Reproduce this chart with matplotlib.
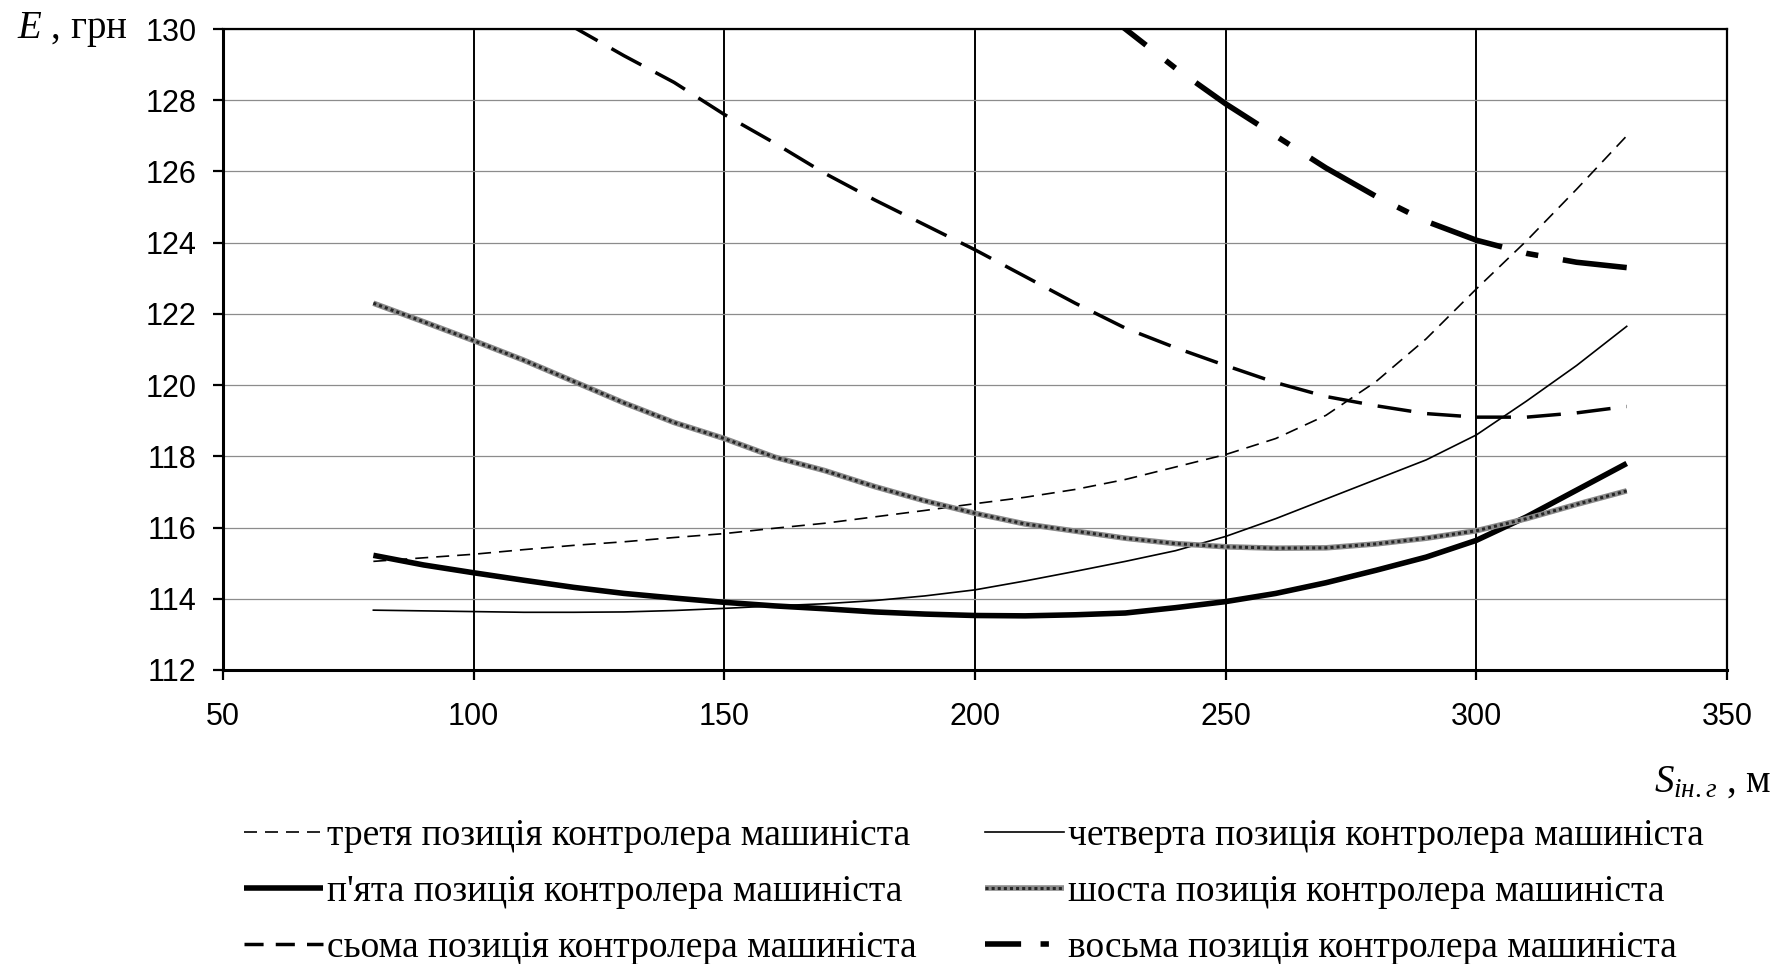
import numpy as np
import matplotlib
matplotlib.use('Agg')
import matplotlib.pyplot as plt
from matplotlib.lines import Line2D
from matplotlib.legend_handler import HandlerTuple

plt.rcParams['mathtext.fontset'] = 'custom'
plt.rcParams['mathtext.rm'] = 'Liberation Serif'
plt.rcParams['mathtext.it'] = 'Liberation Serif:italic'

# distance S, m
s_values = [80, 90, 100, 110, 120, 130, 140, 150, 160, 170, 180, 190, 200,
            210, 220, 230, 240, 250, 260, 270, 280, 290, 300, 310, 320, 330]

# E, UAH for controller positions 3..8 (nan = off chart)
e_pos3 = [115.05, 115.15, 115.25, 115.38, 115.5, 115.6, 115.72, 115.83, 115.98,
          116.12, 116.3, 116.48, 116.67, 116.85, 117.07, 117.35, 117.7, 118.05,
          118.5, 119.15, 120.1, 121.3, 122.7, 124.05, 125.5, 127.0]
e_pos4 = [113.68, 113.66, 113.64, 113.62, 113.62, 113.63, 113.67, 113.73, 113.8,
          113.86, 113.95, 114.08, 114.25, 114.5, 114.77, 115.05, 115.35, 115.75,
          116.25, 116.8, 117.35, 117.9, 118.6, 119.55, 120.55, 121.65]
e_pos5 = [115.22, 114.95, 114.73, 114.52, 114.32, 114.15, 114.02, 113.9, 113.8,
          113.72, 113.63, 113.57, 113.53, 113.52, 113.55, 113.6, 113.75, 113.92,
          114.15, 114.45, 114.8, 115.17, 115.64, 116.3, 117.05, 117.8]
e_pos6 = [122.3, 121.78, 121.25, 120.7, 120.1, 119.5, 118.95, 118.5, 117.98,
          117.6, 117.15, 116.75, 116.4, 116.1, 115.9, 115.7, 115.55, 115.46,
          115.42, 115.43, 115.54, 115.7, 115.91, 116.25, 116.65, 117.03]
e_pos7 = [np.nan, np.nan, np.nan, 130.8, 130.05, 129.25, 128.5, 127.6, 126.8,
          125.95, 125.2, 124.5, 123.8, 123.05, 122.3, 121.6, 121.05, 120.55,
          120.07, 119.68, 119.42, 119.2, 119.1, 119.1, 119.22, 119.4]
e_pos8 = [np.nan] * 14 + [131.1, 130.0, 128.9, 127.9, 127.0, 126.1, 125.3,
                          124.6, 124.07, 123.7, 123.45, 123.3]

labels = ['третя позиція контролера машиніста',
          "п'ята позиція контролера машиніста",
          'сьома позиція контролера машиніста',
          'четверта позиція контролера машиніста',
          'шоста позиція контролера машиніста',
          'восьма позиція контролера машиніста']

x_ticks = [50, 100, 150, 200, 250, 300, 350]
y_ticks = [112, 114, 116, 118, 120, 122, 124, 126, 128, 130]

fig = plt.figure(figsize=(17.78, 9.64), dpi=100)
ax = fig.add_axes([0.1254, 0.3050, 0.8459, 0.6649])

dash3 = (0, (7.8, 4.8))
dash7 = (0, (9.8, 4.6))
dash8 = (0, (13.5, 4.5, 2.2, 4.5))
gray6 = '#8a8a8a'
dots6 = '#262626'

ax.plot(s_values, e_pos3, color='black', lw=1.2, linestyle=dash3, zorder=3)
ax.plot(s_values, e_pos4, color='black', lw=1.2, zorder=3)
ax.plot(s_values, e_pos5, color='black', lw=4.0, solid_capstyle='butt', zorder=3)
ax.plot(s_values, e_pos6, color=gray6, lw=4.0, solid_capstyle='butt', zorder=3)
ax.plot(s_values, e_pos6, color=dots6, lw=2.2, linestyle=(0, (1, 1)), zorder=3)
ax.plot(s_values, e_pos7, color='black', lw=2.5, linestyle=dash7, zorder=3)
ax.plot(s_values, e_pos8, color='black', lw=4.0, linestyle=dash8, zorder=3)

ax.set_xlim(50, 350)
ax.set_ylim(112, 130)
ax.set_xticks(x_ticks)
ax.set_yticks(y_ticks)
ax.xaxis.grid(True, color='black', lw=1.4)
ax.yaxis.grid(True, color='#8c8c8c', lw=0.9)
ax.set_axisbelow(True)

for side in ['left', 'bottom']:
    ax.spines[side].set_linewidth(2.2)
for side in ['top', 'right']:
    ax.spines[side].set_linewidth(1.6)

ax.tick_params(direction='out', length=7, width=1.6, labelsize=22)
ax.tick_params(axis='y', pad=12)
ax.tick_params(axis='x', pad=16)
for lab in ax.get_xticklabels() + ax.get_yticklabels():
    lab.set_family('Liberation Sans')

fig.text(0.0096, 0.9699, r'$E$ , грн', ha='left', va='center', fontsize=28,
         family='Liberation Serif')
fig.text(0.9966, 0.1888, r'$S_{\mathit{ін.г}}$ , м', ha='right', va='center',
         fontsize=28, family='Liberation Serif')

# legend proxies
h3 = Line2D([], [], color='black', lw=1.2, linestyle=dash3)
h4 = Line2D([], [], color='black', lw=1.2)
h5 = Line2D([], [], color='black', lw=4.0, solid_capstyle='butt')
h6 = (Line2D([], [], color=gray6, lw=4.0, solid_capstyle='butt'),
      Line2D([], [], color=dots6, lw=2.2, linestyle=(0, (1, 1))))
h7 = Line2D([], [], color='black', lw=2.5, linestyle=(0, (5.5, 3.5)))
h8 = Line2D([], [], color='black', lw=4.0, linestyle=(0, (6.5, 3.5, 1.5, 3.5)))

leg_kw = dict(loc='upper left', frameon=False, borderpad=0, borderaxespad=0,
              handlelength=2.1, handletextpad=0.12, labelspacing=0.57,
              prop={'family': 'Liberation Serif', 'size': 27},
              handler_map={tuple: HandlerTuple(ndivide=1)})
fig.legend([h3, h5, h7], labels[:3], bbox_to_anchor=(0.1372, 0.151), **leg_kw)
fig.legend([h4, h6, h8], labels[3:], bbox_to_anchor=(0.554, 0.151), **leg_kw)

fig.savefig('out.png', dpi=100)
